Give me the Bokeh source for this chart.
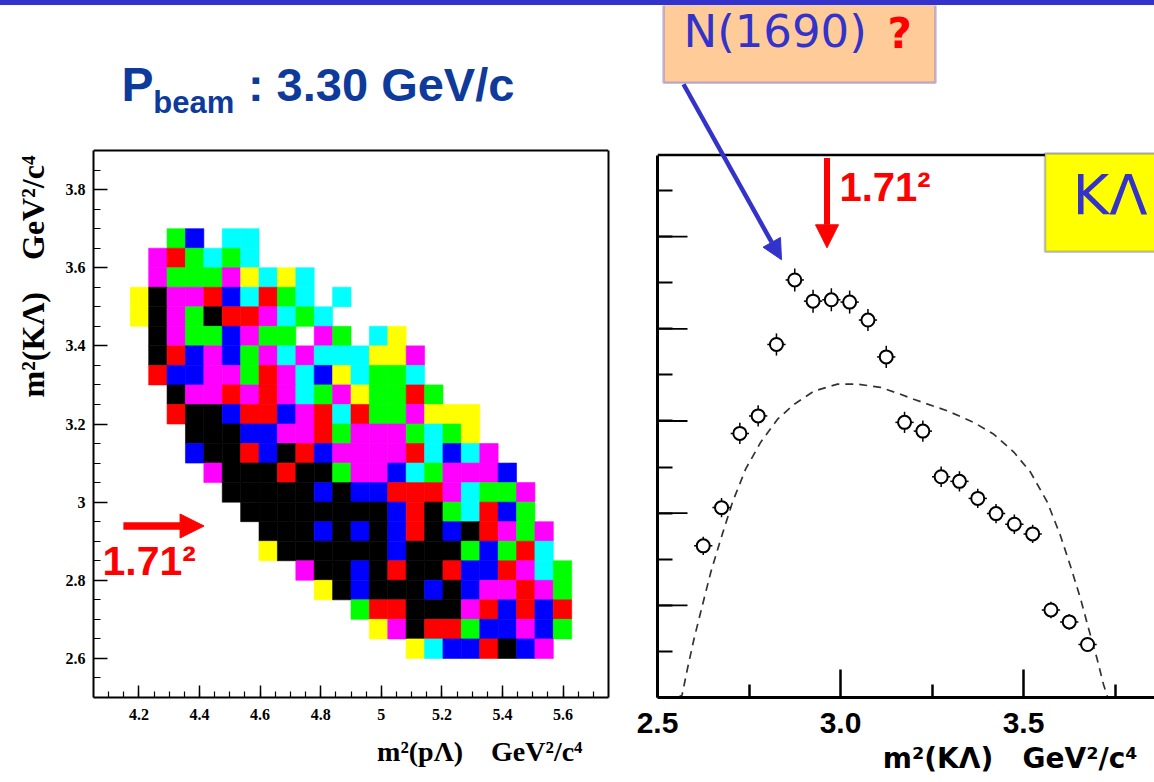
import numpy as np
from bokeh.plotting import figure
from bokeh.models import (Range1d, FixedTicker, LinearAxis, Label, Arrow, NormalHead,
                          BoxAnnotation, ColumnDataSource, PrintfTickFormatter,
                          CustomJSTickFormatter, Span, Title, Spacer)
from bokeh.layouts import row, column
from bokeh.embed import file_html
from bokeh.resources import INLINE

# ------------------------------------------------------------------ data
# Dalitz plot m2(pL) vs m2(KL): 28 x 28 bins, colour level per filled cell
HX_MIN, HX_MAX, HNX = 4.05, 5.75, 28
HY_MIN, HY_MAX, HNY = 2.5, 3.9, 28
FIRST_COL_BIN = 2          # x-bin index of first character in each row
TOP_ROW_BIN = 23           # y-bin index of first row string
HIST_ROWS = [
    "..GB.CC",
    ".MRGCGC",
    ".MGGGMYCYC",
    "YKMMRBCRGC.C",
    "YKMGKRRMCGC",
    ".KMGGBMGG.MG.CY",
    ".KRBMBGMCMCCCYYM",
    ".RBBMMGRMCBYCGGC",
    "..KMMRMRMCGMYGGRG",
    "..RKKBRRBMRCRGGMYYY",
    "...KKKBBMMRGMMMGCGY",
    "...BKKRBKRBMMMMRCBCM",
    "....MKKKRKKGMMBCGMMMB",
    ".....KKKKKBKBBRRRMCGGM",
    "......KKKKKKKKBRKGCRBG",
    ".......KKKBKBKBRKBKRMGM",
    ".......YKKKKKKBKKKGBGRC",
    ".........MKKBKRKKRBBRMCG",
    "..........YKBKKKBKBMMRMG",
    "............GRRKKKMRBRBR",
    ".............YMKRRGBBMBG",
    "...............YCBBRKBM",
]
LEVEL_COLORS = {"Y": "#FFFF00", "C": "#00FFFF", "M": "#FF00FF", "G": "#00FF00",
                "R": "#FF0000", "B": "#0000FF", "K": "#000000"}
LX_TICKS = [4.2, 4.4, 4.6, 4.8, 5.0, 5.2, 5.4, 5.6]
LY_TICKS = [2.6, 2.8, 3.0, 3.2, 3.4, 3.6, 3.8]

# m2(K Lambda) projection
KL_M2 = [2.625, 2.675, 2.725, 2.775, 2.825, 2.875, 2.925, 2.975, 3.025, 3.075, 3.125,
         3.175, 3.225, 3.275, 3.325, 3.375, 3.425, 3.475, 3.525, 3.575, 3.625, 3.675]
KL_COUNTS = [32.9, 41.2, 57.3, 61.1, 76.6, 90.6, 86.0, 86.3, 85.8, 81.9, 73.9,
             59.7, 57.8, 47.9, 46.9, 43.2, 39.9, 37.6, 35.5, 19.0, 16.4, 11.5]
KL_ERR = [2.0, 2.1, 2.3, 2.3, 2.4, 2.5, 2.5, 2.5, 2.5, 2.4, 2.4,
          2.3, 2.3, 2.2, 2.2, 2.1, 2.1, 2.1, 2.0, 1.8, 1.7, 1.6]
KL_HALFBIN = 0.025
# phase-space expectation (dashed)
PS_M2 = [2.555, 2.567, 2.582, 2.600, 2.623, 2.646, 2.673, 2.705, 2.741, 2.782, 2.828,
         2.873, 2.928, 2.992, 3.046, 3.109, 3.164, 3.200, 3.292, 3.364, 3.419, 3.474,
         3.519, 3.565, 3.601, 3.628, 3.656, 3.678, 3.701, 3.719, 3.729]
PS_COUNTS = [0.0, 0.5, 6.3, 12.8, 20.1, 27.3, 34.4, 42.4, 49.6, 55.4, 60.4,
             63.6, 66.5, 68.0, 68.0, 67.3, 65.8, 64.7, 62.2, 59.7, 57.1, 53.2,
             48.9, 42.4, 35.1, 28.6, 21.4, 14.9, 8.4, 2.7, 0.3]
RX_TICKS = [2.5, 3.0, 3.5]
RX_MINOR = [2.75, 3.25, 3.75]
RY_MAJOR = [20, 40, 60, 80, 100]
RY_MINOR = [10, 30, 50, 70, 90, 110]

NB = "\u00a0"
L_XTITLE = "m²(pΛ)" + NB * 4 + "GeV²/c⁴"
L_YTITLE = "m²(KΛ)" + NB * 4 + "GeV²/c⁴"
R_XTITLE = "m²(KΛ)" + NB * 3 + "GeV²/c⁴"

# ------------------------------------------------------------------ styles
BLUE = "#3333CC"
TITLE_BLUE = "#0E3A9B"
SERIF = "Liberation Serif"
SANS = "Liberation Sans"
GOTHIC = "DejaVu Sans"

PAGE_W, PAGE_H = 1154, 782
BAR_H = 5
FIG_H = PAGE_H - BAR_H

# ------------------------------------------------------------------ top bar
bar = Spacer(width=PAGE_W, height=BAR_H, styles={"background-color": BLUE})

# ------------------------------------------------------------------ left figure
LW = 620
L_FRAME = (91, 608, 150, 697)  # plot box: left, right, top, bottom (page px)


def lx(px):
    return HX_MIN + (px - L_FRAME[0]) * (HX_MAX - HX_MIN) / (L_FRAME[1] - L_FRAME[0])


def ly(py):
    return HY_MAX - (py - L_FRAME[2]) * (HY_MAX - HY_MIN) / (L_FRAME[3] - L_FRAME[2])


pl = figure(width=LW, height=FIG_H, x_range=Range1d(HX_MIN, HX_MAX),
            y_range=Range1d(HY_MIN, ly(BAR_H)), output_backend="svg",
            toolbar_location=None, min_border_left=L_FRAME[0],
            min_border_right=LW - L_FRAME[1], min_border_top=0,
            min_border_bottom=PAGE_H - L_FRAME[3])
pl.xgrid.visible = False
pl.ygrid.visible = False
pl.outline_line_color = None
pl.background_fill_color = "white"
pl.border_fill_color = "white"

dx = (HX_MAX - HX_MIN) / HNX
dy = (HY_MAX - HY_MIN) / HNY
hx, hy, hc = [], [], []
for r, rs in enumerate(HIST_ROWS):
    j = TOP_ROW_BIN - r
    for c, ch in enumerate(rs):
        if ch == ".":
            continue
        i = FIRST_COL_BIN + c
        hx.append(HX_MIN + (i + 0.5) * dx)
        hy.append(HY_MIN + (j + 0.5) * dy)
        hc.append(LEVEL_COLORS[ch])
hsrc = ColumnDataSource(dict(x=hx, y=hy, c=hc))
pl.rect(x="x", y="y", width=dx, height=dy, fill_color="c", line_color="c",
        line_width=0.6, source=hsrc)

fmt = CustomJSTickFormatter(code="return Number(tick.toFixed(2)).toString();")
for ax, ticks, minors, tin, mtin in (
        (pl.xaxis[0], LX_TICKS, list(np.round(np.arange(4.10, 5.74, 0.05), 3)), 12, 6),
        (pl.yaxis[0], LY_TICKS, list(np.round(np.arange(2.55, 3.89, 0.05), 3)), 14, 7)):
    ax.ticker = FixedTicker(ticks=ticks, minor_ticks=minors)
    ax.formatter = fmt
    ax.major_tick_in = tin
    ax.major_tick_out = 0
    ax.minor_tick_in = mtin
    ax.minor_tick_out = 0
    ax.axis_line_width = 2
    ax.major_tick_line_width = 1.5
    ax.minor_tick_line_width = 1.2
    ax.major_label_text_font = SERIF
    ax.major_label_text_font_style = "bold"
    ax.major_label_text_font_size = "16px"
    ax.major_label_text_color = "black"
pl.xaxis.major_label_standoff = 11
pl.yaxis.major_label_standoff = 8
pl.yaxis[0].bounds = (HY_MIN, HY_MAX)

# right and top edges of the plot box
pl.add_layout(LinearAxis(ticker=FixedTicker(ticks=[]), bounds=(HY_MIN, HY_MAX),
                         axis_line_width=2, major_tick_line_color=None,
                         minor_tick_line_color=None), "right")
pl.add_layout(Span(location=HY_MAX, dimension="width", line_color="black", line_width=2))

# axis titles, right-aligned ROOT style
pl.add_layout(Title(text=L_YTITLE, align="right", offset=L_FRAME[2] + 5 - BAR_H,
                    vertical_align="bottom", standoff=24, text_font=SERIF,
                    text_font_style="bold", text_font_size="32px", text_color="black"),
              "left")
pl.add_layout(Title(text=L_XTITLE, align="right", offset=L_FRAME[1] - 582,
                    vertical_align="top", standoff=26, text_font=SERIF,
                    text_font_style="bold", text_font_size="28px", text_color="black"),
              "below")

# header title
pl.add_layout(Label(x=lx(119), y=ly(110), text="P", text_font=SANS,
                    text_font_style="bold", text_font_size="48px", text_color=TITLE_BLUE))
pl.add_layout(Label(x=lx(151), y=ly(119), text="beam", text_font=SANS,
                    text_font_style="bold", text_font_size="31px", text_color=TITLE_BLUE))
pl.add_layout(Label(x=lx(246), y=ly(110), text=": 3.30 GeV/c", text_font=SANS,
                    text_font_style="bold", text_font_size="47px", text_color=TITLE_BLUE))

# threshold marker
pl.add_layout(Arrow(x_start=lx(121), y_start=ly(525.5), x_end=lx(202), y_end=ly(525.5),
                    line_color="red", line_width=7.5,
                    end=NormalHead(size=24, fill_color="red", line_color="red")))
pl.add_layout(Label(x=lx(100), y=ly(583), text="1.71²", text_font=SANS,
                    text_font_style="bold", text_font_size="41px", text_color="red"))

# ------------------------------------------------------------------ right figure
RW = PAGE_W - LW
R_FRAME = (657, 1154, 155, 699)
RX_MIN = 2.5
RX_PER_PX = 1 / 366.0
RY_PER_PX = 1 / 4.622
RX_MAX = RX_MIN + (R_FRAME[1] - R_FRAME[0]) * RX_PER_PX


def rx(px):
    return RX_MIN + (px - R_FRAME[0]) * RX_PER_PX


def ry(py):
    return (R_FRAME[3] - py) * RY_PER_PX


RY_TOP = ry(R_FRAME[2])

pr = figure(width=RW, height=FIG_H, x_range=Range1d(RX_MIN, RX_MAX),
            y_range=Range1d(0, ry(BAR_H)), output_backend="svg", toolbar_location=None,
            min_border_left=R_FRAME[0] - LW, min_border_right=0,
            min_border_top=0, min_border_bottom=PAGE_H - R_FRAME[3])
pr.xgrid.visible = False
pr.ygrid.visible = False
pr.outline_line_color = None
pr.background_fill_color = "white"
pr.border_fill_color = "white"

xa = pr.xaxis[0]
xa.ticker = FixedTicker(ticks=RX_TICKS, minor_ticks=RX_MINOR)
xa.formatter = PrintfTickFormatter(format="%.1f")
xa.major_tick_in = 28
xa.major_tick_out = 0
xa.minor_tick_in = 13
xa.minor_tick_out = 0
xa.axis_line_width = 3
xa.major_tick_line_width = 2.5
xa.minor_tick_line_width = 2.5
xa.major_label_text_font = SANS
xa.major_label_text_font_style = "bold"
xa.major_label_text_font_size = "30px"
xa.major_label_text_color = "black"
xa.major_label_standoff = 15

ya = pr.yaxis[0]
ya.ticker = FixedTicker(ticks=[], minor_ticks=RY_MAJOR + RY_MINOR)
ya.bounds = (0, RY_TOP)
ya.minor_tick_in = 15
ya.minor_tick_out = 0
ya.axis_line_width = 3
ya.minor_tick_line_width = 1.8
# longer ticks at the major positions
pr.segment(x0=[RX_MIN] * len(RY_MAJOR), y0=RY_MAJOR,
           x1=[RX_MIN + 30 * RX_PER_PX] * len(RY_MAJOR), y1=RY_MAJOR,
           line_color="black", line_width=1.8)
pr.add_layout(Span(location=RY_TOP, dimension="width", line_color="black", line_width=2.5))

pr.add_layout(Title(text=R_XTITLE, align="right", offset=R_FRAME[1] - 1137,
                    vertical_align="bottom", standoff=8, text_font=GOTHIC,
                    text_font_style="bold", text_font_size="28px", text_color="black"),
              "below")

# phase space
pr.line(PS_M2, PS_COUNTS, line_color="#333333", line_width=1.7, line_dash="8 6")

# data with errors
kx = np.array(KL_M2)
ky = np.array(KL_COUNTS)
ke = np.array(KL_ERR)
pr.segment(x0=kx, y0=ky - ke, x1=kx, y1=ky + ke, line_color="black", line_width=1.5)
pr.segment(x0=kx - KL_HALFBIN, y0=ky, x1=kx + KL_HALFBIN, y1=ky, line_color="black",
           line_width=1.5)
pr.scatter(kx, ky, marker="circle", size=13, fill_color="white", line_color="black",
           line_width=2)

# annotation boxes
pr.add_layout(BoxAnnotation(left=rx(663), right=rx(935), top=ry(4), bottom=ry(82.5),
                            fill_color="#FFCC99", fill_alpha=1, line_color=BLUE,
                            line_width=2.5))
pr.add_layout(Label(x=rx(683), y=ry(58), text="N(1690)", text_font=GOTHIC,
                    text_font_size="45px", text_color=BLUE))
pr.add_layout(Label(x=rx(887), y=ry(58), text="?", text_font=GOTHIC,
                    text_font_style="bold", text_font_size="42px", text_color="red"))
pr.add_layout(Arrow(x_start=rx(683), y_start=ry(84), x_end=rx(781), y_end=ry(260),
                    line_color=BLUE, line_width=4.5,
                    end=NormalHead(size=20, fill_color=BLUE, line_color=BLUE)))

pr.add_layout(BoxAnnotation(left=rx(1044.5), right=rx(1170), top=ry(153.5), bottom=ry(252),
                            fill_color="#FFFF00", fill_alpha=1, line_color=BLUE,
                            line_width=2.5))
pr.add_layout(Label(x=rx(1072), y=ry(227), text="KΛ", text_font=GOTHIC,
                    text_font_size="56px", text_color=BLUE))

# threshold marker
pr.add_layout(Arrow(x_start=rx(826.5), y_start=ry(158), x_end=rx(826.5), y_end=ry(248),
                    line_color="red", line_width=6,
                    end=NormalHead(size=23, fill_color="red", line_color="red")))
pr.add_layout(Label(x=rx(839), y=ry(209.5), text="1.71²", text_font=SANS,
                    text_font_style="bold", text_font_size="40px", text_color="red"))

layout = column(bar, row(pl, pr))
open("out.html", "w").write(file_html(layout, INLINE))
